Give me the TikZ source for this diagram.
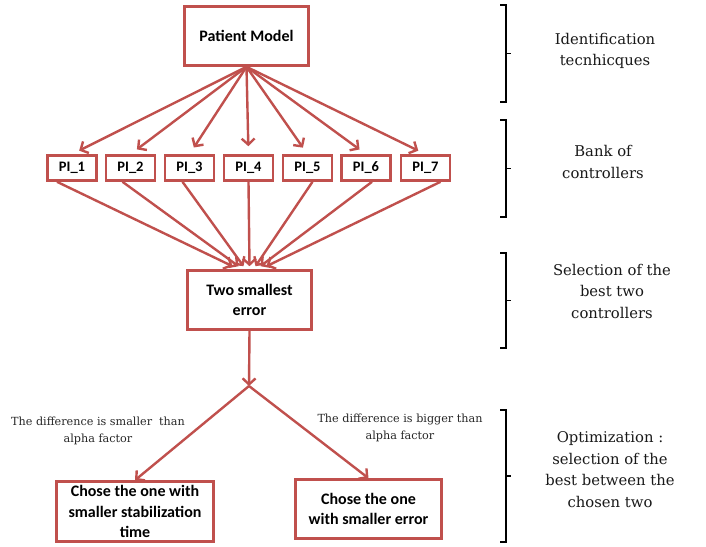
\documentclass[tikz,border=0pt]{standalone}
\usepackage{fontspec}
\newfontfamily\boxfont{Carlito}
\newfontfamily\notefont{DejaVu Serif}
\usetikzlibrary{arrows.meta, positioning, calc}
\definecolor{boxred}{RGB}{192,80,77}
\tikzset{
  stepblock/.style={rectangle, draw=boxred, line width=2.6pt, fill=white,
                    align=center, inner sep=2pt,
                    font=\boxfont\bfseries\fontsize{16}{20.5}\selectfont},
  piblock/.style={stepblock, minimum width=49pt, minimum height=25pt,
                  font=\boxfont\bfseries\fontsize{14.5}{17}\selectfont},
  redarrow/.style={-{Straight Barb[length=6pt,width=13pt]}, boxred, line width=2.4pt},
  condtext/.style={align=center, font=\notefont\fontsize{11.2}{16.5}\selectfont, text=black!85},
  phasetext/.style={align=center, font=\notefont\fontsize{14.8}{21.5}\selectfont, text=black!90},
  phasebrace/.style={line width=1.8pt, black},
}

\begin{document}
\begin{tikzpicture}[x=1pt, y=-1pt]
  \useasboundingbox (0,0) rectangle (706,546);

  % Blocks
  \node[stepblock, minimum width=124pt, minimum height=59pt] (model) at (246.5,36)
    {Patient Model};
  \foreach \i/\x in {1/72, 2/130.5, 3/189.5, 4/248.5, 5/307.5, 6/366, 7/425.5}
    \node[piblock] (pi\i) at (\x,168) {PI\_\i};
  \node[stepblock, minimum width=124pt, minimum height=59pt] (smallest) at (249.5,300)
    {Two smallest\\error};
  \coordinate (split) at (249,386);
  \node[stepblock, minimum width=157pt, minimum height=60pt] (stabtime) at (135,511.5)
    {Chose the one with\\smaller stabilization\\time};
  \node[stepblock, minimum width=146pt, minimum height=59pt] (smallerr) at (368.5,509)
    {Chose the one\\with smaller error};

  % Connections
  \foreach \i in {1,...,7}
    \draw[redarrow, shorten >=8pt] (model.south) -- (pi\i.north);
  \foreach \i/\s/\t in {1/-15/-17, 2/-8/-11, 3/-7/-6, 4/0/0, 5/5/6, 6/6/11, 7/15/17}
    \draw[redarrow] ([xshift=\s pt]pi\i.south) -- ([xshift=\t pt, yshift=3pt]smallest.north);
  \draw[redarrow] (smallest.south) -- (split);
  \draw[redarrow] (split) -- (stabtime.north);
  \draw[redarrow] (split) -- (smallerr.north);

  % Conditions
  \node[condtext] (smallerlbl) at (98,431) {The difference is smaller\ \ than\\alpha factor};
  \node[condtext] (biggerlbl) at (400,428) {The difference is bigger than\\alpha factor};

  % Phases
  \node[phasetext] (ident) at (605,51) {Identification\\tecnhicques};
  \node[phasetext] (bank) at (603,162) {Bank of\\controllers};
  \node[phasetext] (select) at (612,291) {Selection of the\\best two\\controllers};
  \node[phasetext] (optim) at (610,469.5) {Optimization :\\selection of the\\best between the\\chosen two};
  \foreach \ya/\yb in {5/102, 120/217, 253/348, 410/542}
    \draw[phasebrace] (500,\ya) -- (506,\ya) -- (506,\yb) -- (500,\yb)
      (506,{(\ya+\yb)/2}) -- (511,{(\ya+\yb)/2});
\end{tikzpicture}
\end{document}
